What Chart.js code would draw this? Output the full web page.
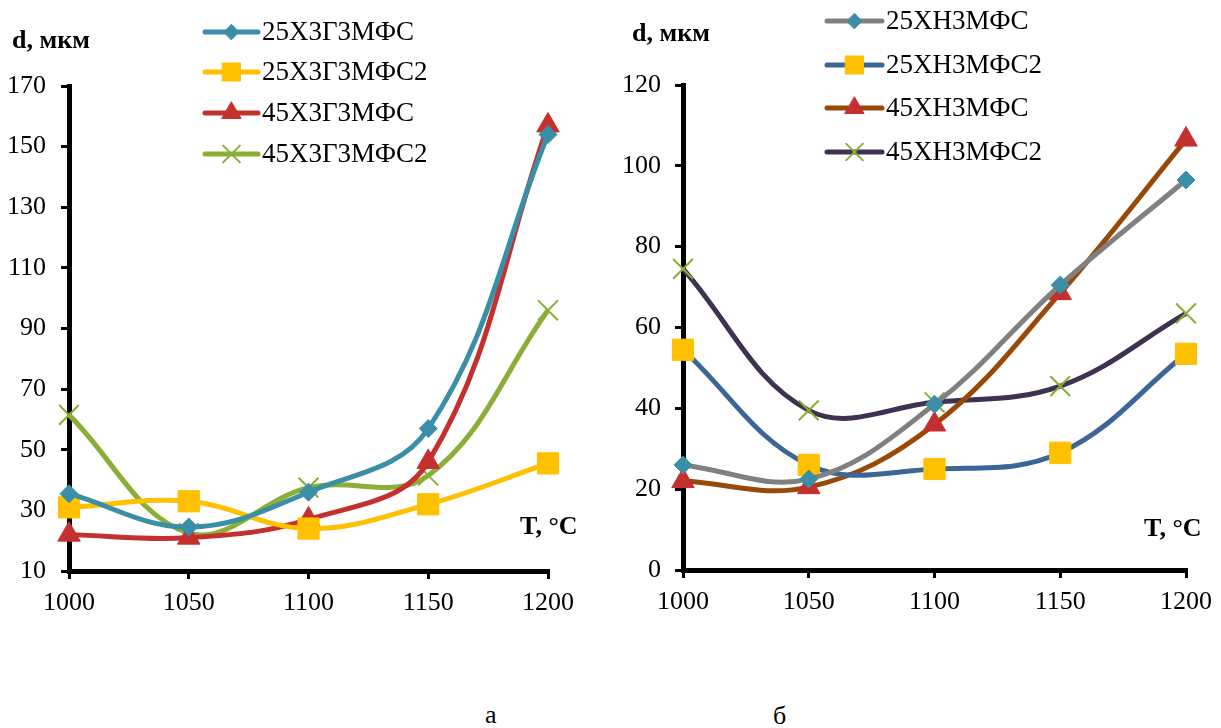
<!DOCTYPE html>
<html><head><meta charset="utf-8">
<script src="https://cdn.jsdelivr.net/npm/chart.js@4.4.1/dist/chart.umd.min.js"></script>
<style>
html,body{margin:0;padding:0;background:#fff;width:1221px;height:728px;overflow:hidden;font-family:"Liberation Serif","Times New Roman",serif;}
canvas{position:absolute;top:0;}
.t{position:absolute;font-family:"Liberation Serif",serif;color:#000;white-space:nowrap;line-height:1;}
.b{font-weight:bold;font-size:26px;}
.cap{font-size:26px;}
</style></head><body>
<canvas id="c1" width="610" height="680" style="left:0"></canvas>
<canvas id="c2" width="611" height="680" style="left:610px"></canvas>
<div class="t b" style="left:12px;top:27px">d, мкм</div>
<div class="t b" style="left:632px;top:20px">d, мкм</div>
<div class="t b" style="left:520px;top:513px">T, °C</div>
<div class="t b" style="left:1144px;top:515px">T, °C</div>
<div class="t cap" style="left:485px;top:702px">а</div>
<div class="t cap" style="left:773px;top:703px">б</div>
<script>
const temps = ['1000','1050','1100','1150','1200'];
// Chart а
const a_names = ['25Х3Г3МФС','25Х3Г3МФС2','45Х3Г3МФС','45Х3Г3МФС2'];
const a_25X3G3MFS  = [35.5, 24.5, 36, 57, 154];
const a_25X3G3MFS2 = [31, 33, 24, 32, 45.5];
const a_45X3G3MFS  = [22, 21, 27, 46, 157];
const a_45X3G3MFS2 = [61.5, 22.5, 37.5, 41.5, 96];
const a_yTicks = {min:10, max:170, step:20};
// Chart б
const b_names = ['25ХН3МФС','25ХН3МФС2','45ХН3МФС','45ХН3МФС2'];
const b_25XN3MFS  = [26, 22.5, 41, 70.5, 96.5];
const b_25XN3MFS2 = [54.5, 26, 25, 29, 53.5];
const b_45XN3MFS  = [22, 20.5, 36, 68.5, 106.5];
const b_45XN3MFS2 = [74.5, 39.5, 41.5, 45.5, 63.5];
const b_yTicks = {min:0, max:120, step:20};

const FONT = {family:'"Liberation Serif", serif', size:26};

function ds(label, data, line, mk, style, r, mkBorder, bw){
  return {label, data, borderColor:line, backgroundColor:mk, pointBackgroundColor:mk,
    pointBorderColor:mkBorder||mk, pointBorderWidth:bw||1, pointStyle:style, pointRadius:r,
    pointHoverRadius:r, borderWidth:5, tension:0.38, clip:false, fill:false};
}

const legendPlugin = {
  id:'customLegend',
  afterDraw(chart, args, opts){
    const ctx = chart.ctx;
    chart.data.datasets.forEach((d,i)=>{
      const y = opts.rows[i];
      ctx.save();
      ctx.strokeStyle = d.borderColor; ctx.lineWidth = 5; ctx.lineCap='round';
      ctx.beginPath(); ctx.moveTo(opts.x0, y); ctx.lineTo(opts.x1, y); ctx.stroke();
      ctx.fillStyle = d.pointBackgroundColor; ctx.strokeStyle = d.pointBorderColor; ctx.lineWidth = d.pointBorderWidth;
      Chart.helpers.drawPoint(ctx, {pointStyle:d.pointStyle, radius:d.pointRadius*0.85, borderWidth:d.pointBorderWidth}, (opts.x0+opts.x1)/2, y);
      ctx.fillStyle='#000'; ctx.font = '27px "Liberation Serif", serif'; ctx.textBaseline='middle'; ctx.textAlign='left';
      ctx.fillText(d.label, opts.x1+4, y+1);
      ctx.restore();
    });
  }
};

function makeChart(id, datasets, yt, pad, yw, tpad, legend){
  return new Chart(document.getElementById(id), {
    type:'line',
    data:{labels:temps, datasets},
    options:{
      responsive:false, animation:false, devicePixelRatio:1,
      layout:{padding:pad},
      plugins:{legend:{display:false}, tooltip:{enabled:false}, customLegend:legend},
      scales:{
        x:{type:'category', offset:false,
          grid:{drawOnChartArea:false, drawTicks:true, tickLength:8, color:'#000', lineWidth:3, offset:false},
          border:{display:true, color:'#000', width:5},
          ticks:{color:'#000', font:FONT, padding:9, maxRotation:0, autoSkip:false},
          afterFit(s){ s.height = 40; }
        },
        y:{min:yt.min, max:yt.max,
          grid:{drawOnChartArea:false, drawTicks:true, tickLength:8, color:'#000', lineWidth:3},
          border:{display:true, color:'#000', width:5},
          ticks:{stepSize:yt.step, color:'#000', font:FONT, padding:tpad},
          afterFit(s){ s.width = yw; }
        }
      }
    },
    plugins:[legendPlugin]
  });
}

makeChart('c1', [
  ds(a_names[0], a_25X3G3MFS,  '#3A8FA7', '#3A8FA7', 'rectRot', 9),
  ds(a_names[1], a_25X3G3MFS2, '#FFC000', '#FFC000', 'rect', 15),
  ds(a_names[2], a_45X3G3MFS,  '#C4302E', '#C4302E', 'triangle', 13),
  ds(a_names[3], a_45X3G3MFS2, '#8BAE36', '#8BAE36', 'crossRot', 14, '#8BAE36', 2)
], a_yTicks, {left:0, top:86, right:62, bottom:69}, 69, 15,
 {x0:205, x1:258, rows:[32,72,113,154]});

makeChart('c2', [
  ds(b_names[0], b_25XN3MFS,  '#808080', '#3A8FA7', 'rectRot', 9),
  ds(b_names[1], b_25XN3MFS2, '#3C6697', '#FFC000', 'rect', 15),
  ds(b_names[2], b_45XN3MFS,  '#984807', '#C4302E', 'triangle', 13),
  ds(b_names[3], b_45XN3MFS2, '#3F3151', '#8BAE36', 'crossRot', 14, '#8BAE36', 2)
], b_yTicks, {left:0, top:85, right:28, bottom:70}, 73, 14,
 {x0:217, x1:272, rows:[21,65,108,152]});
</script>
</body></html>
